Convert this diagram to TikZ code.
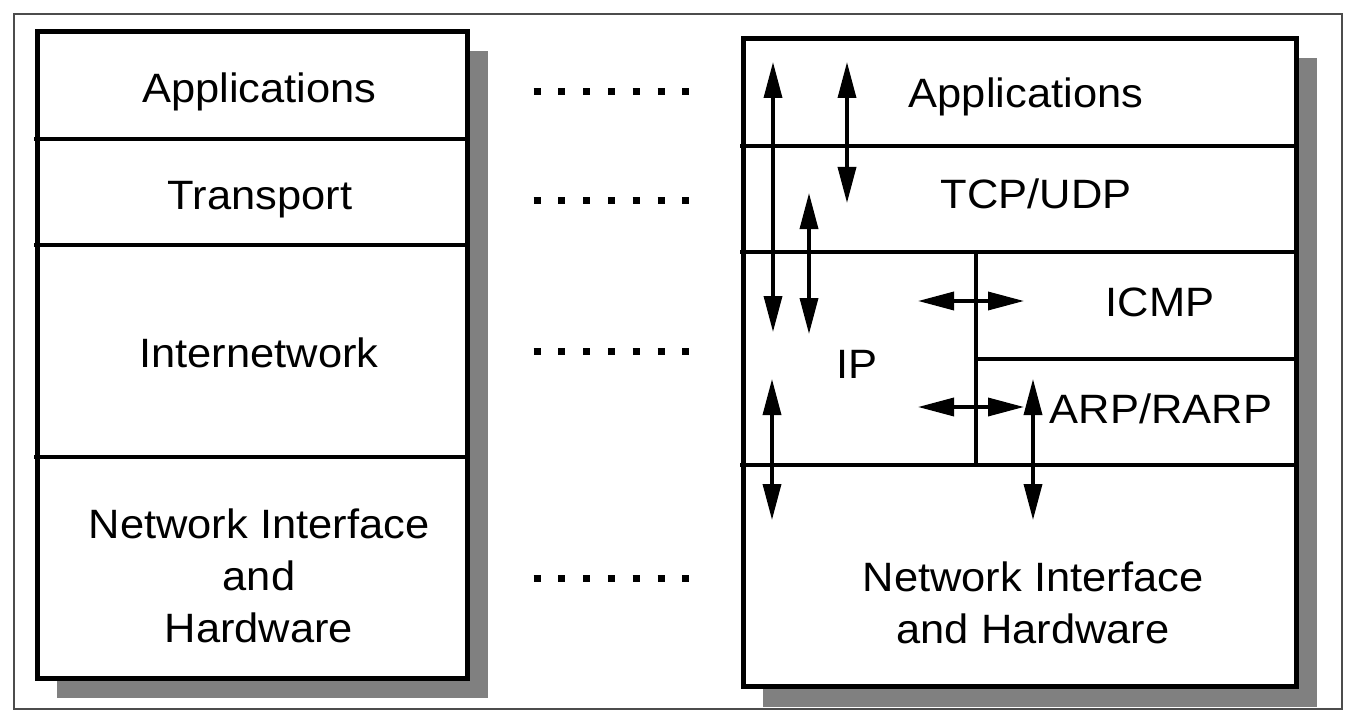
\documentclass[tikz,border=0pt]{standalone}
\usepackage{fontspec}
\setmainfont{Liberation Sans}[FakeStretch=1.06]
\usepackage{tikz}
\usetikzlibrary{arrows.meta}
\tikzstyle{layertext}=[font=\fontsize{20.5}{26}\selectfont,anchor=base,align=center,inner sep=0pt]
\tikzstyle{stackbox}=[draw,line width=2.5pt]
\tikzstyle{divider}=[line width=1.75pt]
\tikzstyle{shade}=[fill=black!50]
\tikzstyle{dotrow}=[line width=3.5pt,dash pattern=on 3.5pt off 8.9pt]
\tikzstyle{flow}=[line width=1.75pt,{Triangle[length=18pt,width=9pt]}-{Triangle[length=18pt,width=9pt]}]

\begin{document}
\begin{tikzpicture}[x=0.5pt,y=-0.5pt]
\useasboundingbox (0,0) rectangle (1355,722);
\draw[line width=1pt,black!70] (14,14) rectangle (1342,709);
% left stack
\fill[shade] (57,51) rectangle (488,698);
\fill[white] (37,32) rectangle (467,678);
\foreach \y in {139,245,457}
  \draw[divider] (34,\y) -- (467,\y);
\draw[stackbox] (37,32) rectangle (467,678);
\node[layertext] (lapp) at (259.5,103) {Applications};
\node[layertext] (ltrans) at (260,209) {Transport};
\node[layertext] (linet) at (259,367) {Internetwork};
\node[layertext] (lnet) at (259,642) {Network Interface\\and\\Hardware};
% dots between the stacks
\foreach \y [count=\i] in {92,200,351,578} {
  \coordinate (dl\i) at (533.5,\y);
  \coordinate (dr\i) at (690,\y);
  \draw[dotrow] (dl\i) -- (dr\i);
}
% right stack
\fill[shade] (763,58) rectangle (1317,707);
\fill[white] (743,39) rectangle (1296,686);
\foreach \y in {146,252,465}
  \draw[divider] (740,\y) -- (1296,\y);
\draw[divider] (976,252) -- (976,465);
\draw[divider] (976,359) -- (1296,359);
\draw[stackbox] (743,39) rectangle (1296,686);
\node[layertext] (rapp) at (1026,108) {Applications};
\node[layertext] (rtcp) at (1036,208) {TCP/UDP};
\node[layertext] (ricmp) at (1160,316) {ICMP};
\node[layertext] (rip) at (857,378) {IP};
\node[layertext] (rarp) at (1161,423) {ARP/RARP};
\node[layertext] (rnet) at (1033,643) {Network Interface\\and Hardware};
% arrows
\foreach \x/\ya/\yb [count=\i] in {773/62/332,847/62/203,809/193/334,772/379/520,1033/379/520} {
  \coordinate (up\i) at (\x,\ya);
  \coordinate (down\i) at (\x,\yb);
  \draw[flow] (up\i) -- (down\i);
}
\foreach \y [count=\i] in {301,407} {
  \coordinate (ipside\i) at (918,\y);
  \coordinate (sideend\i) at (1024,\y);
  \draw[flow] (ipside\i) -- (sideend\i);
}
\end{tikzpicture}
\end{document}
